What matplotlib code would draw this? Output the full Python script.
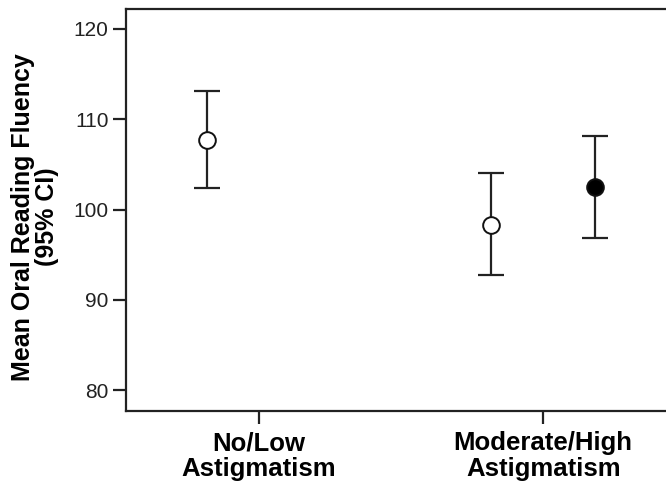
import numpy as np
import matplotlib
matplotlib.use("Agg")
import matplotlib.pyplot as plt

plt.rcParams.update({
    "font.family": ["Liberation Sans", "DejaVu Sans"],
    "figure.facecolor": "white",
    "axes.facecolor": "white",
})

# groups on the x axis
GROUPS = ["No/Low\nAstigmatism", "Moderate/High\nAstigmatism"]

# one entry per plotted point: group index, sub-position, mean, CI low, CI high, filled?
POINT_GROUP = [0, 1, 1]
POINT_SUB = [0, 0, 1]
MEANS = [107.7, 98.3, 102.5]
CI_LOW = [102.4, 92.7, 96.8]
CI_HIGH = [113.1, 104.1, 108.1]
FILLED = [False, False, True]

YTICKS = [80, 90, 100, 110, 120]

SUB_OFFSET = [-0.183, 0.183]

fig = plt.figure(figsize=(6.66, 4.83), dpi=100)
ax = fig.add_axes([126 / 666, 1 - 411 / 483, 1 - 126 / 666 + 0.01, (411 - 9) / 483])

for g, s, m, lo, hi, filled in zip(POINT_GROUP, POINT_SUB, MEANS, CI_LOW, CI_HIGH, FILLED):
    x = g + SUB_OFFSET[s]
    ax.errorbar([x], [m], yerr=[[m - lo], [hi - m]], fmt="none",
                ecolor="#222222", elinewidth=1.6, capsize=9.5, capthick=1.6, zorder=2)
    ax.plot([x], [m], marker="o", markersize=12,
            markerfacecolor="black" if filled else "white",
            markeredgecolor="#111111", markeredgewidth=1.4, zorder=3)

ax.set_xlim(-0.466, 1.455)
ax.set_ylim(77.7, 122.2)
ax.set_yticks(YTICKS)
ax.set_yticklabels([str(t) for t in YTICKS], fontsize=15, color="#222222")
ax.set_xticks(range(len(GROUPS)))
ax.set_xticklabels(GROUPS, fontsize=18.5, fontweight="bold", linespacing=1.08)

ax.spines["right"].set_visible(False)
for side in ["left", "top", "bottom"]:
    ax.spines[side].set_linewidth(1.6)
    ax.spines[side].set_color("#222222")
ax.tick_params(axis="both", length=9.5, width=1.6, color="#222222")
ax.tick_params(axis="y", pad=3)
ax.tick_params(axis="x", pad=5)

ax.set_ylabel("Mean Oral Reading Fluency\n(95% CI)", fontsize=18,
              fontweight="bold", linespacing=1.0)
ax.yaxis.set_label_coords(-0.122, 0.483)

fig.savefig("out.png", dpi=100)
